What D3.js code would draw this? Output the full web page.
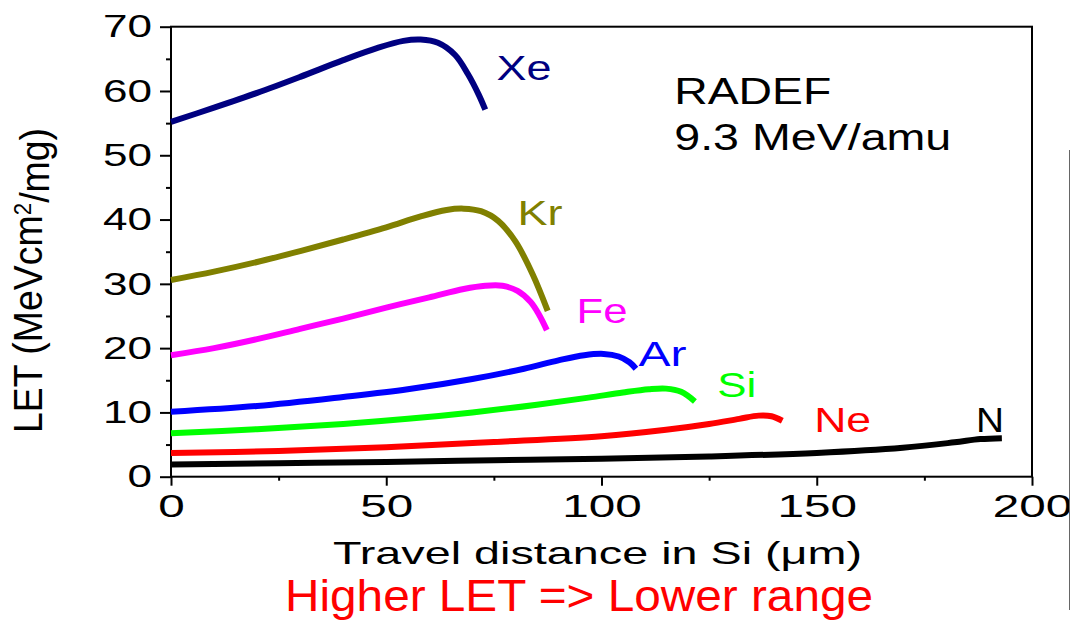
<!DOCTYPE html>
<html>
<head>
<meta charset="utf-8">
<script src="https://cdn.jsdelivr.net/npm/d3@7"></script>
<style>
  html, body { margin: 0; padding: 0; background: #fff; }
  svg { display: block; }
</style>
</head>
<body>
<div id="chart"></div>
<script>
// ion names, colours and curves (distance in Si µm, LET MeV·cm²/mg)
const ions = ["Xe", "Kr", "Fe", "Ar", "Si", "Ne", "N"];
const ionColors = ["#000080", "#808000", "#ff00ff", "#0000ff", "#00ff00", "#ff0000", "#000000"];

const xe = [[0,55.2],[10,57.4],[20,59.7],[30,62.2],[40,64.8],[48,66.7],[54,67.8],[58,68.0],[62,67.5],[66,65.6],[69,62.6],[71.5,59.4],[73,57.1]];
const kr = [[0,30.6],[10,31.9],[20,33.4],[30,35.1],[40,36.9],[50,38.8],[58,40.5],[64,41.5],[68,41.7],[72,41.3],[76,39.8],[80,36.6],[84,31.5],[87.5,25.8]];
const fe = [[0,18.9],[10,20.0],[20,21.4],[30,23.0],[40,24.6],[50,26.3],[60,27.9],[68,29.2],[73,29.7],[77,29.7],[80.5,28.9],[83.5,27.2],[85.5,25.2],[87.3,22.8]];
const ar = [[0,10.1],[20,11.0],[40,12.4],[55,13.6],[70,15.2],[82,16.8],[90,18.1],[96,18.9],[100.5,19.1],[104,18.7],[106.5,17.8],[108,16.8]];
const si = [[0,6.75],[20,7.4],[40,8.2],[55,9.0],[70,10.0],[85,11.2],[97,12.3],[105,13.1],[111,13.6],[115,13.7],[118.5,13.2],[121.7,11.7]];
const ne = [[0,3.7],[25,4.0],[50,4.6],[75,5.4],[100,6.3],[115,7.3],[125,8.2],[132,9.0],[136.5,9.5],[139.5,9.4],[142,8.7]];
const n = [[0,1.9],[25,2.1],[50,2.3],[75,2.55],[100,2.8],[125,3.15],[150,3.7],[170,4.5],[182,5.35],[188,5.85],[193,6.0]];
const curves = [xe, kr, fe, ar, si, ne, n];

// where each ion name sits (data units, left/baseline)
const ionLabelAt = [[75.6,61.7],[80.5,39.1],[94.2,23.9],[108.6,17.2],[126.9,12.4],[149.4,7.0],[187.0,7.0]];

const xMajor = [0, 50, 100, 150, 200];
const xMinor = [25, 75, 125, 175];
const yMajor = [0, 10, 20, 30, 40, 50, 60, 70];
const yMinor = [5, 15, 25, 35, 45, 55, 65];

const noteLines = ["RADEF", "9.3 MeV/amu"];
const xTitle = "Travel distance in Si (\u03bcm)";
const footer = "Higher LET => Lower range";

const width = 1070, height = 623;
const font = "'Liberation Sans', Arial, Helvetica, sans-serif";

const x = d3.scaleLinear().domain([0, 200]).range([171, 1032]);
const y = d3.scaleLinear().domain([0, 70]).range([476.7, 26.7]);

const svg = d3.select("#chart").append("svg")
  .attr("width", width)
  .attr("height", height)
  .style("background", "#fff")
  .style("font-family", font);

// minor ticks
svg.append("g")
  .attr("transform", `translate(${x(0)},0)`)
  .call(d3.axisLeft(y).tickValues(yMinor).tickSize(5).tickFormat(""))
  .call(g => g.select(".domain").remove())
  .call(g => g.selectAll("line").attr("stroke-width", 2));

svg.append("g")
  .attr("transform", `translate(0,${y(0)})`)
  .call(d3.axisBottom(x).tickValues(xMinor).tickSize(4).tickFormat(""))
  .call(g => g.select(".domain").remove())
  .call(g => g.selectAll("line").attr("stroke-width", 2));

// major ticks + labels
svg.append("g")
  .attr("transform", `translate(${x(0)},0)`)
  .call(d3.axisLeft(y).tickValues(yMajor).tickSize(11).tickPadding(8))
  .call(g => g.select(".domain").remove())
  .call(g => g.selectAll("line").attr("stroke-width", 2))
  .call(g => g.selectAll("text")
    .attr("fill", "#000")
    .style("font-family", font)
    .style("font-size", "32px")
    .attr("textLength", d => String(d).length * 24.5)
    .attr("lengthAdjust", "spacingAndGlyphs"));

svg.append("g")
  .attr("transform", `translate(0,${y(0)})`)
  .call(d3.axisBottom(x).tickValues(xMajor).tickSize(9).tickPadding(9))
  .call(g => g.select(".domain").remove())
  .call(g => g.selectAll("line").attr("stroke-width", 2))
  .call(g => g.selectAll("text")
    .attr("fill", "#000")
    .style("font-family", font)
    .style("font-size", "32px")
    .attr("textLength", d => String(d).length * 26.5)
    .attr("lengthAdjust", "spacingAndGlyphs"));

// frame
svg.append("rect")
  .attr("x", x(0)).attr("y", y(70))
  .attr("width", x(200) - x(0)).attr("height", y(0) - y(70))
  .attr("fill", "none")
  .attr("stroke", "#000")
  .attr("stroke-width", 2);

// curves
const line = d3.line()
  .x(d => x(d[0]))
  .y(d => y(d[1]))
  .curve(d3.curveCatmullRom.alpha(0.5));

svg.append("g")
  .selectAll("path")
  .data(curves)
  .join("path")
    .attr("d", line)
    .attr("fill", "none")
    .attr("stroke", (d, i) => ionColors[i])
    .attr("stroke-width", 6)
    .attr("stroke-linejoin", "round");

// ion labels
const labelLen = { Xe: 55, Kr: 45, Fe: 51, Ar: 48, Si: 39, Ne: 57, N: 28 };
svg.append("g")
  .selectAll("text")
  .data(ions)
  .join("text")
    .attr("x", (d, i) => x(ionLabelAt[i][0]))
    .attr("y", (d, i) => y(ionLabelAt[i][1]))
    .attr("fill", (d, i) => ionColors[i])
    .style("font-size", "35px")
    .attr("textLength", d => labelLen[d])
    .attr("lengthAdjust", "spacingAndGlyphs")
    .text(d => d);

// RADEF note
svg.append("text")
  .attr("x", x(116.9)).attr("y", y(58.0))
  .style("font-size", "36px")
  .attr("textLength", 157).attr("lengthAdjust", "spacingAndGlyphs")
  .text(noteLines[0]);
svg.append("text")
  .attr("x", x(116.9)).attr("y", y(50.8))
  .style("font-size", "36px")
  .attr("textLength", 277).attr("lengthAdjust", "spacingAndGlyphs")
  .text(noteLines[1]);

// axis titles
svg.append("text")
  .attr("x", 333).attr("y", 564)
  .style("font-size", "32px")
  .attr("textLength", 529).attr("lengthAdjust", "spacingAndGlyphs")
  .text(xTitle);

const yTitle = svg.append("text")
  .attr("transform", "translate(42,280.5) rotate(-90)")
  .attr("text-anchor", "middle")
  .style("font-size", "40px")
  .attr("textLength", 305).attr("lengthAdjust", "spacingAndGlyphs");
yTitle.append("tspan").text("LET (MeVcm");
yTitle.append("tspan").attr("dy", "-0.45em").style("font-size", "24px").text("2");
yTitle.append("tspan").attr("dy", "0.45em").text("/mg)");

// red footer
svg.append("text")
  .attr("x", 285).attr("y", 611)
  .attr("fill", "#ff0000")
  .style("font-family", "'Liberation Sans Narrow', 'Liberation Sans', Arial, sans-serif")
  .style("font-size", "44px")
  .attr("textLength", 588).attr("lengthAdjust", "spacingAndGlyphs")
  .text(footer);

// thin grey rule at the right edge
svg.append("line")
  .attr("x1", 1069.5).attr("x2", 1069.5)
  .attr("y1", 150).attr("y2", 610)
  .attr("stroke", "#666")
  .attr("stroke-width", 1);
</script>
</body>
</html>
